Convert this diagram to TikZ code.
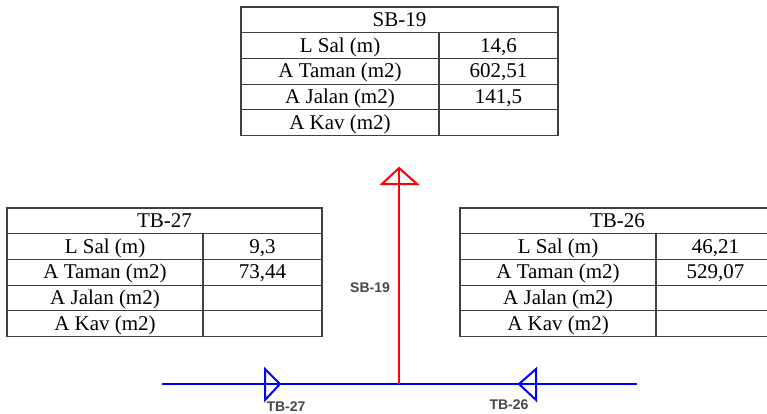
\documentclass[tikz,border=0pt]{standalone}
\usepackage{fontspec}
\setmainfont{Liberation Serif}
\newfontfamily\labelfont{Liberation Sans}
\tikzset{
  gridline/.style={draw=black!75, line width=1.1pt},
  cell/.style={inner sep=0pt, anchor=base, font=\fontsize{21}{25}\selectfont},
  sbline/.style={draw=red, line width=2pt, line join=miter},
  tbline/.style={draw=blue, line width=2pt, line join=miter},
  pipelabel/.style={inner sep=0pt, text=black!72, font=\labelfont\bfseries\fontsize{14}{16}\selectfont}
}
% #1 name, #2 left, #3 top, #4 width, #5 divider offset, #6-#8 values
\newcommand\celltable[8]{%
  \begin{scope}[shift={(#2,#3)}]
    \draw[gridline] (0,0) rectangle (#4,128.5);
    \foreach \k in {1,...,4} \draw[gridline] (0,\k*25.7) -- (#4,\k*25.7);
    \draw[gridline] (#5,25.7) -- (#5,128.5);
    \node[cell] (#1-title) at (#4/2,19.5) {#1};
    \node[cell] (#1-lsal)  at (#5/2,45.2) {L Sal (m)};
    \node[cell] (#1-taman) at (#5/2,70.9) {A Taman (m2)};
    \node[cell] (#1-jalan) at (#5/2,96.6) {A Jalan (m2)};
    \node[cell] (#1-kav)   at (#5/2,122.3) {A Kav (m2)};
    \node[cell] (#1-v1) at ({(#5+#4)/2},45.2) {#6};
    \node[cell] (#1-v2) at ({(#5+#4)/2},70.9) {#7};
    \node[cell] (#1-v3) at ({(#5+#4)/2},96.6) {#8};
  \end{scope}}
\begin{document}
\begin{tikzpicture}[x=1pt, y=-1pt]
  \useasboundingbox (0,0) rectangle (767,414);
  \clip (0,0) rectangle (767,414);
  \fill[white] (0,0) rectangle (767,414);

  % data tables
  \celltable{SB-19}{241}{7}{317}{198}{14,6}{602,51}{141,5}
  \celltable{TB-27}{7}{208}{315}{196}{9,3}{73,44}{}
  \celltable{TB-26}{460}{208}{315}{196}{46,21}{529,07}{}

  % pipe network
  \coordinate (junction) at (399,384);
  \coordinate (sbtip) at (399,168);
  \coordinate (wend) at (162,384);
  \coordinate (eend) at (637,384);

  \draw[tbline] (wend) -- (eend);
  \draw[tbline] (265,369) -- (280,384) -- (265,400) -- cycle;
  \draw[tbline] (536,369) -- (519,384) -- (536,400) -- cycle;

  \draw[sbline] (junction) -- (sbtip);
  \draw[sbline] (382,184) -- (sbtip) -- (417,184) -- cycle;

  \node[pipelabel] (lab-sb) at (370,288) {SB-19};
  \node[pipelabel] (lab-tb27) at (286,407) {TB-27};
  \node[pipelabel] (lab-tb26) at (509,405) {TB-26};
\end{tikzpicture}
\end{document}
